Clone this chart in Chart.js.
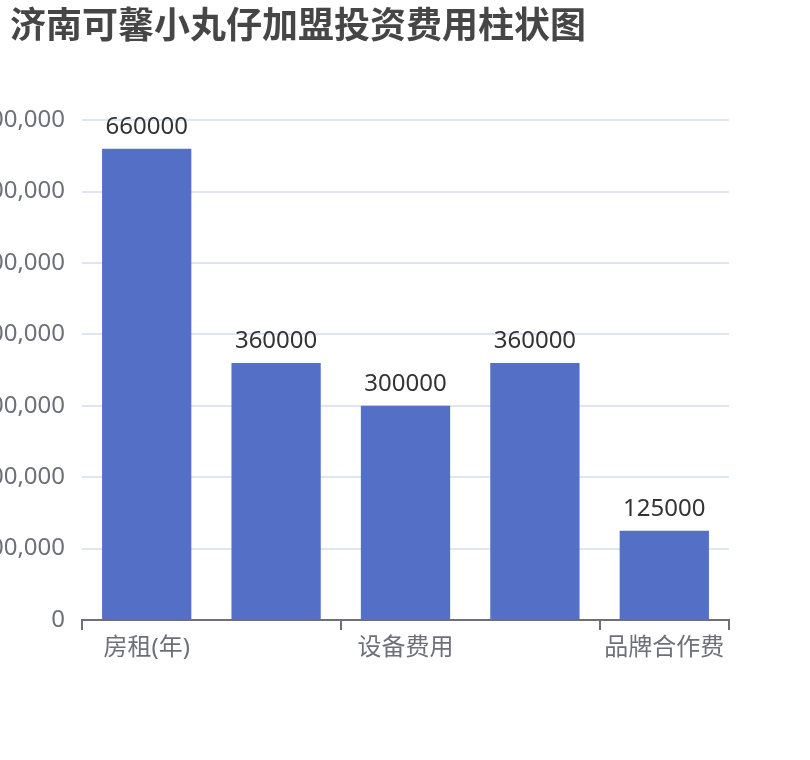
<!DOCTYPE html>
<html>
<head>
<meta charset="utf-8">
<script src="https://cdn.jsdelivr.net/npm/chart.js@4/dist/chart.umd.min.js"></script>
<style>
    html, body { margin: 0; padding: 0; background: #fff; }
    #wrap { width: 810px; height: 760px; }
</style>
</head>
<body>
<div id="wrap"><canvas id="costChart"></canvas></div>
<script>
const categories = ["房租(年)", "装修费用", "设备费用", "人工费用", "品牌合作费"];
const costValues = [660000, 360000, 300000, 360000, 125000];
const yTicks = [0, 100000, 200000, 300000, 400000, 500000, 600000, 700000];

const FONT = "'Noto Sans', 'Noto Sans CJK SC', sans-serif";

// draws the value above each bar
const barValueLabels = {
    id: "barValueLabels",
    afterDatasetsDraw(chart) {
        const c = chart.ctx;
        const meta = chart.getDatasetMeta(0);
        c.save();
        c.font = "24px " + FONT;
        c.fillStyle = "#333333";
        c.textAlign = "center";
        c.textBaseline = "bottom";
        meta.data.forEach((bar, i) => {
            c.fillText(String(costValues[i]), bar.x, bar.y - 10);
        });
        c.restore();
    }
};

// nudge the title 10px in from the left edge
const titleIndent = {
    id: "titleIndent",
    afterLayout(chart) {
        if (chart.titleBlock) chart.titleBlock.left = 10;
    }
};

const ctx = document.getElementById("costChart");

new Chart(ctx, {
    type: "bar",
    data: {
        labels: categories,
        datasets: [{
            label: "费用",
            data: costValues,
            backgroundColor: "#5470c6",
            borderWidth: 0,
            barPercentage: 0.69,
            categoryPercentage: 1
        }]
    },
    plugins: [barValueLabels, titleIndent],
    options: {
        responsive: true,
        maintainAspectRatio: false,
        animation: false,
        layout: {
            padding: { left: 0, right: 81, top: 0, bottom: 0 }
        },
        plugins: {
            legend: { display: false },
            tooltip: { enabled: false },
            title: {
                display: true,
                text: "济南可馨小丸仔加盟投资费用柱状图",
                align: "start",
                color: "#464646",
                font: { family: FONT, size: 36, weight: "bold", lineHeight: 1.2 },
                padding: { top: 6, bottom: 71 }
            }
        },
        scales: {
            x: {
                offset: true,
                afterFit(scale) { scale.height = 140; },
                border: { display: true, color: "#6e7079", width: 2 },
                grid: {
                    offset: true,
                    drawOnChartArea: false,
                    drawTicks: true,
                    tickLength: 10,
                    lineWidth: 2,
                    // ticks only at the boundaries of the labelled categories
                    color: (c) => (c.index === undefined || c.index % 2 === 0) ? "#6e7079" : "rgba(0,0,0,0)"
                },
                ticks: {
                    autoSkip: false,
                    maxRotation: 0,
                    minRotation: 0,
                    padding: 4,
                    color: "#6e7079",
                    font: { family: FONT, size: 24 },
                    callback: function (value, index) {
                        return index % 2 === 0 ? categories[index] : "";
                    }
                }
            },
            y: {
                min: yTicks[0],
                max: yTicks[yTicks.length - 1],
                afterFit(scale) { scale.width = 82; },
                afterBuildTicks(scale) {
                    scale.ticks = yTicks.map(v => ({ value: v }));
                },
                border: { display: false },
                grid: {
                    color: "#e0e6f1",
                    lineWidth: 2,
                    drawTicks: false
                },
                ticks: {
                    padding: 17,
                    color: "#6e7079",
                    font: { family: FONT, size: 24 },
                    callback: (v) => v.toLocaleString("en-US")
                }
            }
        }
    }
});
</script>
</body>
</html>
